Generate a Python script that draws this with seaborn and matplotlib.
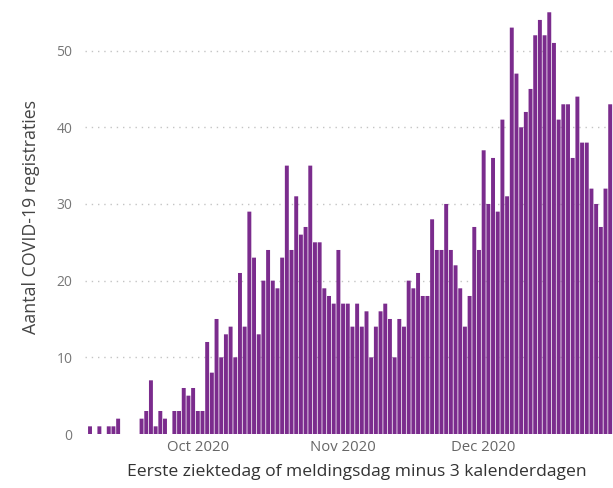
import matplotlib
matplotlib.use("Agg")
import matplotlib.pyplot as plt
import pandas as pd
import seaborn as sns

# daily counts, first bar = 8 Sep 2020
start_date = "2020-09-08"
aantal = [1, 0, 1, 0, 1, 1, 2, 0, 0, 0, 0, 2, 3, 7, 1, 3, 2, 0, 3, 3,
          6, 5, 6, 3, 3, 12, 8, 15, 10, 13, 14, 10, 21, 14, 29, 23, 13, 20, 24, 20,
          19, 23, 35, 24, 31, 26, 27, 35, 25, 25, 19, 18, 17, 24, 17, 17, 14, 17, 14, 16,
          10, 14, 16, 17, 15, 10, 15, 14, 20, 19, 21, 18, 18, 28, 24, 24, 30, 24, 22, 19,
          14, 18, 27, 24, 37, 30, 36, 29, 41, 31, 53, 47, 40, 42, 45, 52, 54, 52, 55, 51,
          41, 43, 43, 36, 44, 38, 38, 32, 30, 27, 32, 43]
month_ticks = ["2020-10-01", "2020-11-01", "2020-12-01"]
month_labels = ["Oct 2020", "Nov 2020", "Dec 2020"]
y_ticks = [0, 10, 20, 30, 40, 50]

datums = pd.date_range(start_date, periods=len(aantal), freq="D")
df = pd.DataFrame({"datum": datums.strftime("%Y-%m-%d"), "aantal": aantal})

sns.set_style("white")
plt.rcParams["font.family"] = ["Open Sans", "DejaVu Sans"]

fig = plt.figure(figsize=(6.13, 4.88), dpi=100)
ax = fig.add_axes([85 / 613, 54 / 488, 528 / 613, 434 / 488])

sns.barplot(data=df, x="datum", y="aantal", color="#7B2C8D", saturation=1,
            width=0.84, linewidth=0, ax=ax, zorder=3)
# no pixel snapping, so all bars look the same width
for p in ax.patches:
    p.set_snap(False)

# x ticks on the first of each month
pos = [list(df["datum"]).index(d) for d in month_ticks]
ax.set_xticks(pos)
ax.set_xticklabels(month_labels, color="#666666", fontsize=10.7)
ax.set_xlim(-1.07, 111.6)

ax.set_ylim(0, 56.6)
ax.set_yticks(y_ticks)
ax.set_yticklabels([str(t) for t in y_ticks], color="#777777", fontsize=10)
for t in y_ticks[1:]:
    ax.axhline(t, color="#c4c4c4", linestyle=(0, (1, 3.5)), linewidth=1, zorder=1)

ax.tick_params(axis="both", length=0)
ax.tick_params(axis="y", pad=9)
ax.tick_params(axis="x", pad=4)
for s in ax.spines.values():
    s.set_visible(False)

ax.set_xlabel("Eerste ziektedag of meldingsdag minus 3 kalenderdagen",
              fontsize=12.6, color="#333333", labelpad=4)
ax.xaxis.set_label_coords(0.515, -0.068)
ax.set_ylabel("Aantal COVID-19 registraties", fontsize=12.8, color="#444444",
              labelpad=12)

fig.savefig("out.png", dpi=100)
